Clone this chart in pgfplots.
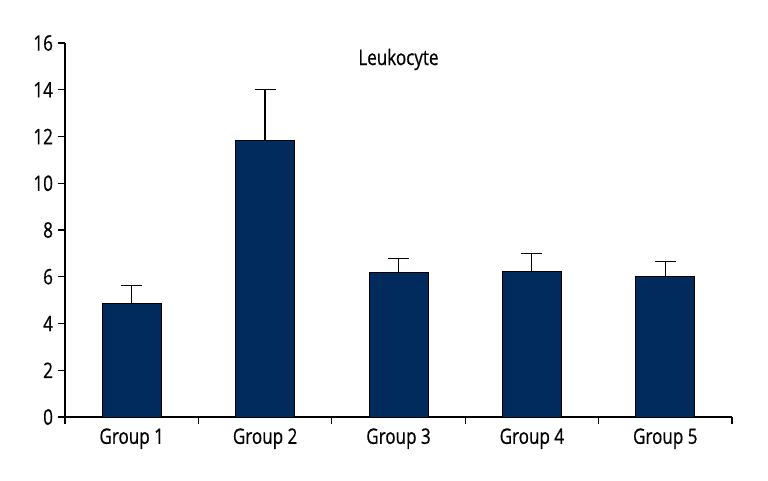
\documentclass[border=0pt]{standalone}
\usepackage{pgfplots}
\pgfplotsset{compat=1.18}
\usepackage{fontspec}
\setmainfont{Open Sans}[FakeStretch=0.8, FakeBold=0.6]
\definecolor{barnavy}{RGB}{0,43,92}
\begin{document}
\begin{tikzpicture}[x=1pt,y=1pt]
\path[use as bounding box] (-48.75,-47.25) rectangle (527.25,312.75);
\begin{axis}[
  at={(0,0)}, anchor=origin,
  scale only axis,
  width=500.25pt, height=280.5pt,
  xmin=0.5, xmax=5.5, ymin=0, ymax=16,
  axis x line*=bottom, axis y line*=left,
  axis line style={-, line width=0.9pt, black},
  xtick={0.5,1.5,2.5,3.5,4.5,5.5},
  xticklabels={},
  extra x ticks={1,2,3,4,5},
  extra x tick labels={Group 1,Group 2,Group 3,Group 4,Group 5},
  extra x tick style={major tick length=0pt, tick style={draw=none}},
  ytick={0,2,...,16},
  tick align=outside,
  major tick length=5.5pt,
  tick style={line width=0.9pt, black},
  tick label style={font=\fontsize{16}{17}\selectfont},
  /pgf/number format/assume math mode=true,
  xticklabel style={yshift=-5pt},
  clip=false,
]
\addplot[ybar, bar width=44.2pt, fill=barnavy, draw=black, line width=0.6pt,
  error bars/.cd, y dir=plus, y explicit,
  error bar style={line width=0.9pt, black},
  error mark options={black, line width=0.9pt, mark size=7.9pt, rotate=90}]
  table[x=x, y=y, y error=e] {
x y e
1 4.86 0.77
2 11.84 2.18
3 6.17 0.62
4 6.24 0.77
5 6.00 0.65
};
\node[font=\fontsize{16}{17}\selectfont] at (rel axis cs:0.5,0.956) {Leukocyte};
\end{axis}
\end{tikzpicture}
\end{document}
